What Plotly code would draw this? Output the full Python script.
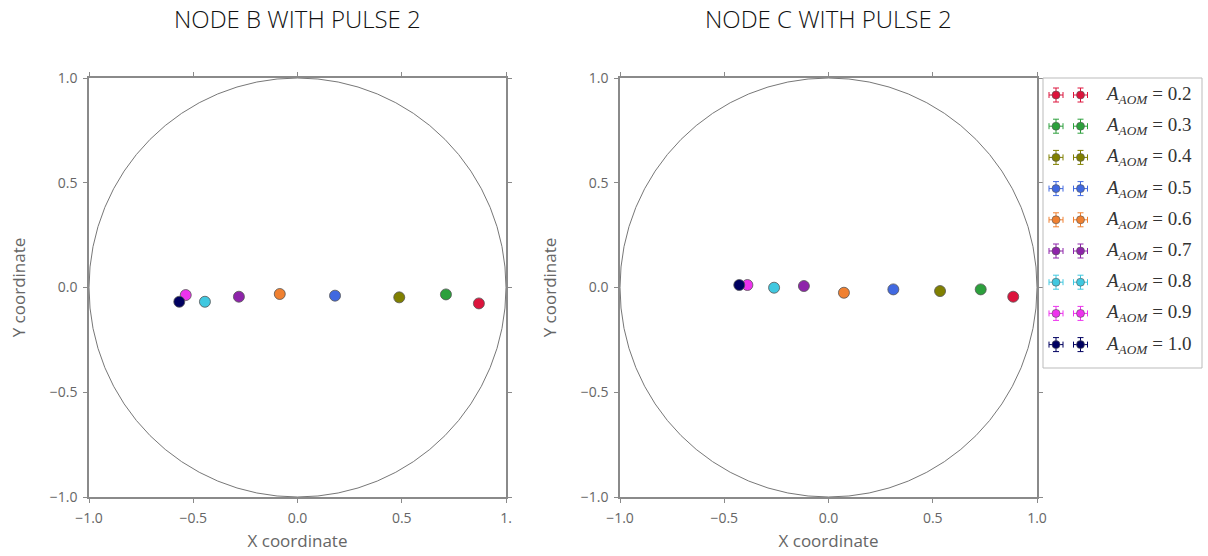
import plotly.graph_objects as go

# Amplitude settings and their marker colours
amplitudes = ["0.2", "0.3", "0.4", "0.5", "0.6", "0.7", "0.8", "0.9", "1.0"]
colors = ["#dc143c", "#2ca03c", "#808000", "#4169e1", "#f08030",
          "#8e24aa", "#40c8e0", "#ee33ee", "#000060"]

# Measured Bloch-plane coordinates, node B (pulse 2)
node_b_x = [0.870, 0.712, 0.488, 0.180, -0.085, -0.281, -0.444, -0.536, -0.567]
node_b_y = [-0.076, -0.033, -0.047, -0.039, -0.031, -0.044, -0.068, -0.036, -0.068]

# Measured Bloch-plane coordinates, node C (pulse 2)
node_c_x = [0.886, 0.730, 0.535, 0.311, 0.074, -0.118, -0.261, -0.389, -0.428]
node_c_y = [-0.044, -0.009, -0.017, -0.009, -0.025, 0.007, -0.001, 0.012, 0.012]

titles = ["NODE B WITH PULSE 2", "NODE C WITH PULSE 2"]
tick_vals = [-1.0, -0.5, 0.0, 0.5, 1.0]
tick_text = ["\u22121.0", "\u22120.5", "0.0", "0.5", "1.0"]
tick_text_left_x = ["\u22121.0", "\u22120.5", "0.0", "0.5", "1."]

W, H = 1208, 556
AX_COL = "#8a8a8a"
TXT_COL = "#666666"
FONT = "Open Sans"

def px_x(p):
    return p / W

def px_y(p):
    return 1 - p / H

fig = go.Figure()

panels = [(node_b_x, node_b_y, "x", "y"), (node_c_x, node_c_y, "x2", "y2")]
for xs, ys, xa, ya in panels:
    for i in range(len(amplitudes)):
        fig.add_trace(go.Scatter(
            x=[xs[i]], y=[ys[i]], mode="markers", xaxis=xa, yaxis=ya,
            marker=dict(size=11, color=colors[i], line=dict(color="#555555", width=0.8)),
            showlegend=False, hoverinfo="x+y",
        ))

# Legend handles: two markers with error-bar crosses per entry
for i in range(len(amplitudes)):
    fig.add_trace(go.Scatter(
        x=[13, 37.5], y=[i, i], mode="markers", xaxis="x3", yaxis="y3",
        marker=dict(size=8, color=colors[i], line=dict(color="#555555", width=0.6)),
        error_x=dict(type="constant", value=7, thickness=1, width=3, color=colors[i]),
        error_y=dict(type="constant", value=7 / 31.2, thickness=1, width=3, color=colors[i]),
        showlegend=False, hoverinfo="skip",
    ))

axis_common = dict(
    showgrid=False, zeroline=False, showline=True, linecolor=AX_COL, linewidth=1.5,
    mirror="ticks", ticks="outside", ticklen=4, tickwidth=1, tickcolor=AX_COL,
    tickfont=dict(family=FONT, size=14, color=TXT_COL), ticklabelstandoff=3,
    tickvals=tick_vals, range=[-1, 1], automargin=False,
)
title_font = dict(family=FONT, size=17, color=TXT_COL)

dom_x1 = [px_x(89), px_x(506)]
dom_x2 = [px_x(620), px_x(1037)]
dom_y = [px_y(497), px_y(78)]

fig.update_layout(
    width=W, height=H, margin=dict(l=0, r=0, t=0, b=0),
    plot_bgcolor="white", paper_bgcolor="white", showlegend=False,
    xaxis=dict(axis_common, domain=dom_x1, anchor="y", ticktext=tick_text_left_x,
               title=dict(text="X coordinate", font=title_font, standoff=10)),
    yaxis=dict(axis_common, domain=dom_y, anchor="x", ticktext=tick_text,
               title=dict(text="Y coordinate", font=title_font, standoff=20)),
    xaxis2=dict(axis_common, domain=dom_x2, anchor="y2", ticktext=tick_text,
                title=dict(text="X coordinate", font=title_font, standoff=10)),
    yaxis2=dict(axis_common, domain=dom_y, anchor="x2", ticktext=tick_text,
                title=dict(text="Y coordinate", font=title_font, standoff=20)),
    xaxis3=dict(domain=[px_x(1043), px_x(1202)], anchor="y3", range=[0, 159],
                visible=False, fixedrange=True, automargin=False),
    yaxis3=dict(domain=[px_y(368), px_y(78)], anchor="x3", range=[8.75, -0.545],
                visible=False, fixedrange=True, automargin=False),
)

# Unit circles
for xr, yr in [("x", "y"), ("x2", "y2")]:
    fig.add_shape(type="circle", xref=xr, yref=yr, x0=-1, y0=-1, x1=1, y1=1,
                  line=dict(color="#777777", width=1), layer="below")

# Legend frame
fig.add_shape(type="rect", xref="paper", yref="paper",
              x0=px_x(1043), x1=px_x(1202), y0=px_y(368), y1=px_y(78),
              line=dict(color="#bbbbbb", width=1), fillcolor="rgba(0,0,0,0)")

# Legend labels
for i, a in enumerate(amplitudes):
    fig.add_annotation(
        xref="x3", yref="y3", x=60, y=i, xanchor="left", yanchor="middle",
        text=f"<i>A</i><sub><i>AOM</i></sub> = {a}", showarrow=False,
        font=dict(family="Liberation Serif", size=19, color="#333333"),
    )

# Panel titles
for t, dom in zip(titles, [dom_x1, dom_x2]):
    fig.add_annotation(
        xref="paper", yref="paper", x=(dom[0] + dom[1]) / 2, y=px_y(18),
        xanchor="center", yanchor="middle", text=t, showarrow=False,
        font=dict(family=FONT, size=24, color="#111111", weight=300),
    )

fig.write_html("out.html")
